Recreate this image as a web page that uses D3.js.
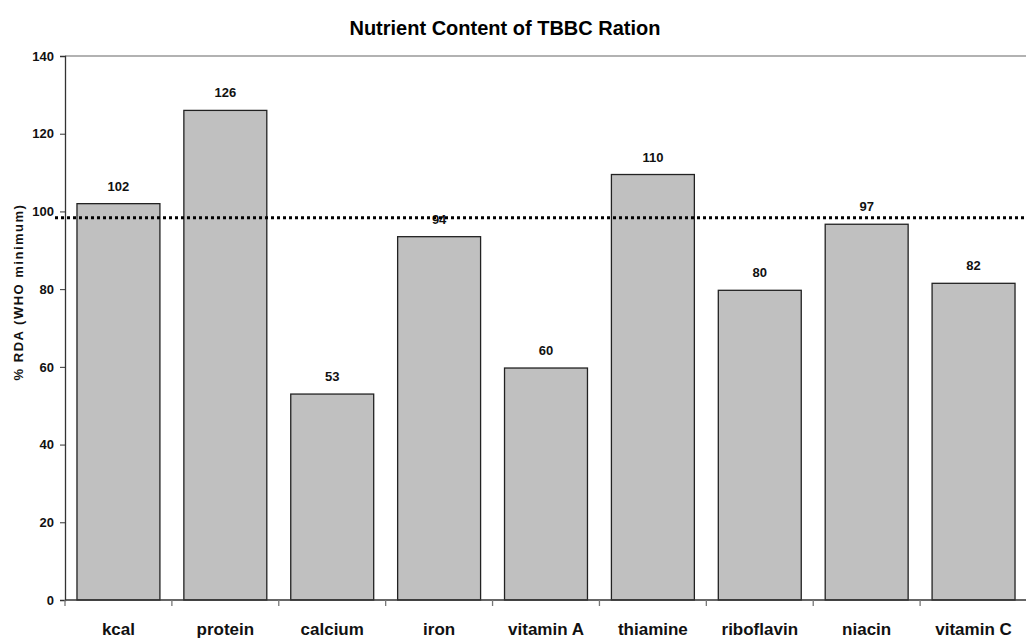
<!DOCTYPE html>
<html>
<head>
<meta charset="utf-8">
<script src="https://cdn.jsdelivr.net/npm/d3@7"></script>
<style>
html,body{margin:0;padding:0;background:#fff;}
svg{display:block;font-family:"Liberation Sans",Arial,sans-serif;}
</style>
</head>
<body>
<svg id="chart" width="1026" height="641"></svg>
<script>
const categories = ["kcal","protein","calcium","iron","vitamin A","thiamine","riboflavin","niacin","vitamin C"];
const values = [102, 126, 53, 93.5, 59.7, 109.5, 79.7, 96.7, 81.5];
const valueLabels = ["102","126","53","94","60","110","80","97","82"];
const yTicks = [0,20,40,60,80,100,120,140];
const referenceLine = 98.4;
const titleText = "Nutrient Content of TBBC Ration";
const yTitle = "% RDA (WHO minimum)";

const svg = d3.select("#chart");
const mLeft = 65, mRight = 1027, mTop = 56, mBottom = 600;

const x = d3.scaleBand().domain(categories).range([mLeft, mRight]).paddingInner(0.224).paddingOuter(0.112);
const y = d3.scaleLinear().domain([0,140]).range([mBottom, mTop]);

// top border
svg.append("line").attr("x1", mLeft).attr("x2", 1026).attr("y1", mTop).attr("y2", mTop)
  .attr("stroke", "#999").attr("stroke-width", 1.5);

// bars
svg.append("g").selectAll("rect").data(categories).join("rect")
  .attr("x", d => x(d))
  .attr("y", (d,i) => y(values[i]))
  .attr("width", x.bandwidth())
  .attr("height", (d,i) => y(0) - y(values[i]))
  .attr("fill", "#c0c0c0").attr("stroke", "#222").attr("stroke-width", 1.3);

// value labels
svg.append("g").selectAll("text").data(categories).join("text")
  .attr("x", d => x(d) + x.bandwidth()/2)
  .attr("y", (d,i) => y(values[i]) - 13)
  .attr("text-anchor", "middle")
  .attr("font-size", "13px").attr("font-weight", "bold").attr("fill", "#111")
  .text((d,i) => valueLabels[i]);

// reference dotted line
svg.append("line").attr("x1", mLeft - 10).attr("x2", 1026)
  .attr("y1", y(referenceLine)).attr("y2", y(referenceLine))
  .attr("stroke", "#000").attr("stroke-width", 3).attr("stroke-dasharray", "3,3");

// y axis
const yAxis = svg.append("g").attr("transform", `translate(${mLeft},0)`)
  .call(d3.axisLeft(y).tickValues(yTicks).tickSize(5).tickPadding(6));
yAxis.select(".domain").attr("stroke", "#333").attr("stroke-width", 1.3);
yAxis.selectAll(".tick line").attr("stroke", "#333");
yAxis.selectAll("text").attr("font-size", "13px").attr("font-weight", "bold")
  .attr("fill", "#111").attr("font-family", "Liberation Sans, Arial, sans-serif");

// x axis: ticks between categories
const xAxisG = svg.append("g");
xAxisG.append("line").attr("x1", mLeft).attr("x2", 1026).attr("y1", mBottom).attr("y2", mBottom)
  .attr("stroke", "#333").attr("stroke-width", 1.3);
const step = x.step();
const boundaries = categories.map((d,i) => x(d) - step*0.112);
xAxisG.selectAll("line.tk").data(boundaries).join("line").attr("class","tk")
  .attr("x1", d => d).attr("x2", d => d).attr("y1", mBottom).attr("y2", mBottom + 6)
  .attr("stroke", "#777").attr("stroke-width", 1.3);
xAxisG.selectAll("text").data(categories).join("text")
  .attr("x", d => x(d) + x.bandwidth()/2)
  .attr("y", 635)
  .attr("text-anchor", "middle")
  .attr("font-size", "17px").attr("font-weight", "bold").attr("fill", "#111")
  .text(d => d);

// title
svg.append("text").attr("x", 505).attr("y", 35).attr("text-anchor", "middle")
  .attr("font-size", "20px").attr("font-weight", "bold").attr("fill", "#000")
  .text(titleText);

// y title
svg.append("text").attr("transform", "translate(23,292) rotate(-90)")
  .attr("text-anchor", "middle").attr("font-size", "13px").attr("font-weight", "bold")
  .attr("letter-spacing", "1.5px").attr("fill", "#111")
  .text(yTitle);
</script>
</body>
</html>
